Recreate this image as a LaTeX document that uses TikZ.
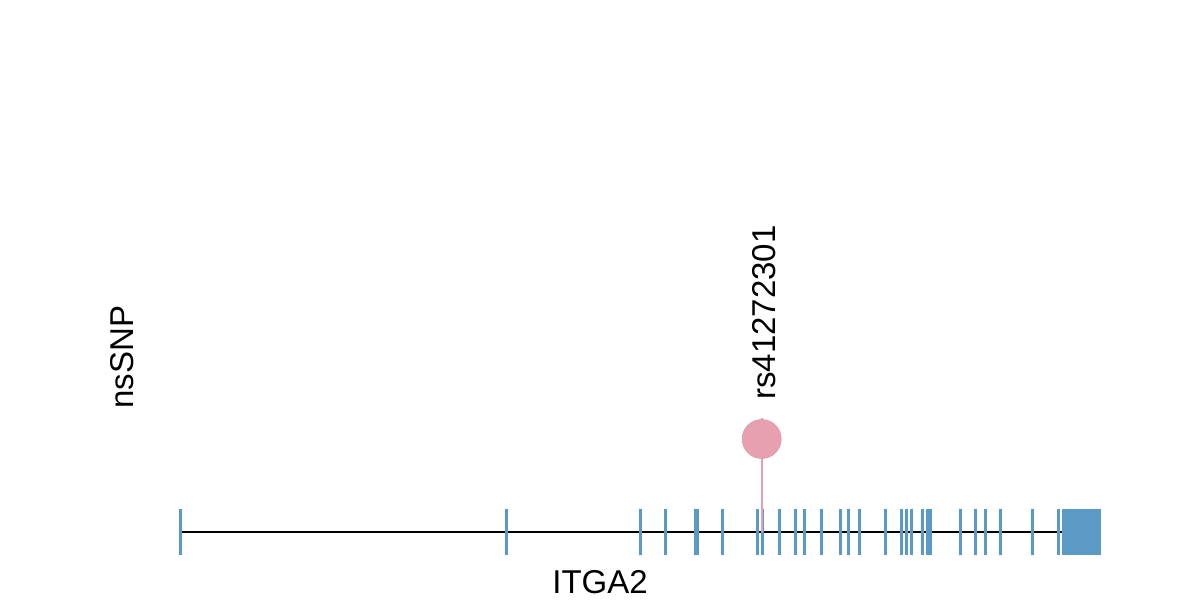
\documentclass[tikz,border=0pt]{standalone}
\usepackage{fontspec}
\setmainfont{Liberation Sans}
\definecolor{exonblue}{RGB}{91,154,197}
\definecolor{snppink}{RGB}{232,160,176}
\begin{document}
\begin{tikzpicture}[x=0.5pt,y=-0.5pt,
  exon/.style={draw=exonblue,line width=1.5pt},
  lbl/.style={font=\fontsize{16.5pt}{19pt}\selectfont,inner sep=0pt}]
\useasboundingbox (0,0) rectangle (1200,600);
% intron backbone
\coordinate (gstart) at (180,532);
\coordinate (gend) at (1062,532);
\draw[black,line width=1pt] (gstart) -- (gend);
% exons
\foreach \x in {180.7,506.7,640.7,665.7,695.5,697.8,722,757.7,762.3,779.3,795.7,804.7,821,840,848,859,885,901,906.7,911.3,922.3,927.5,930,960.3,975.7,985.3,1000.3,1032,1058}
  \draw[exon] (\x,508.5) -- (\x,555);
\fill[exonblue] (1062,508.5) rectangle (1100.7,555);
% SNP lollipop
\coordinate (snpbase) at (761.7,532);
\coordinate (snptop) at (761.7,418);
\draw[snppink,line width=0.9pt] (snpbase) -- (snptop);
\node[circle,fill=snppink,draw=snppink!90!black!90,line width=0.3pt,minimum size=39pt*0.5,inner sep=0pt] (snp) at (761.7,439) {};
\node[lbl,rotate=90,anchor=west] (snplbl) at (764.5,400) {rs41272301};
\node[lbl,rotate=90] (track) at (122,357) {nsSNP};
\node[lbl] (gene) at (600,582) {ITGA2};
\end{tikzpicture}
\end{document}
